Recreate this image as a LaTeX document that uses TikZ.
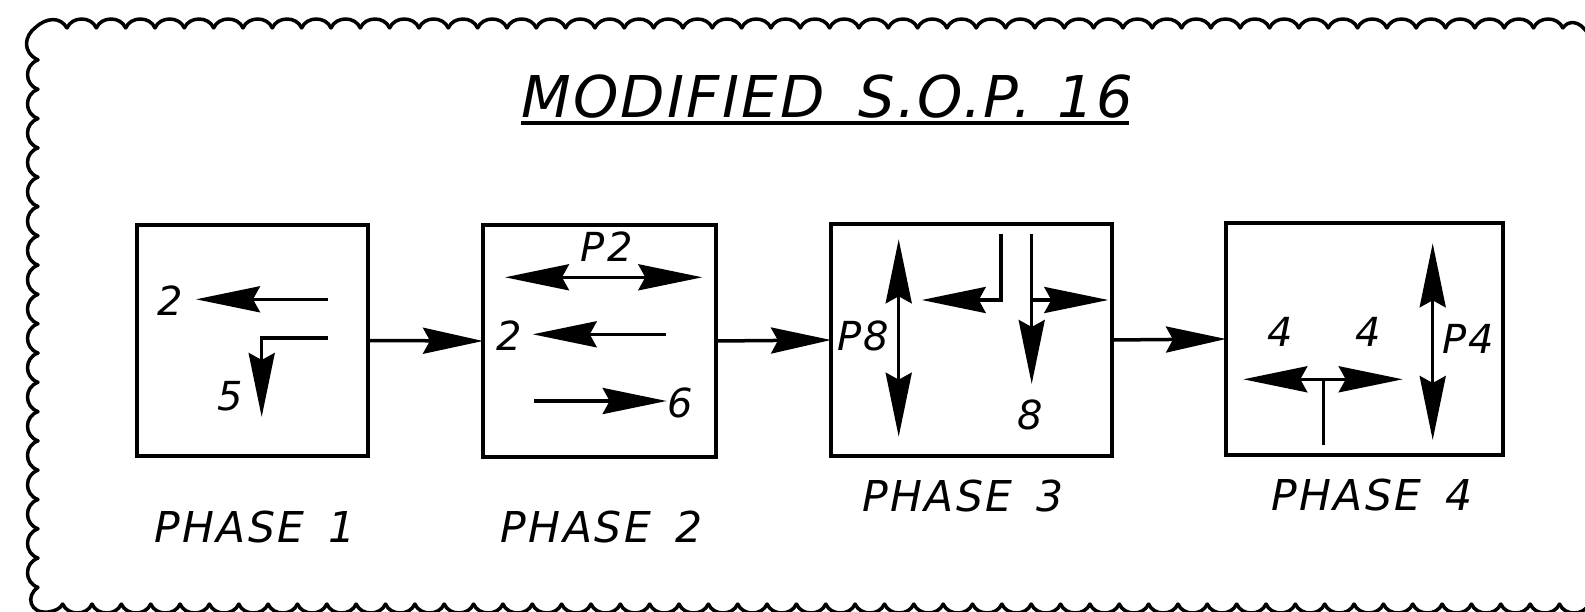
\documentclass[tikz,border=0pt]{standalone}
\usepackage{fontspec}
\setmainfont{DejaVu Sans}
\newfontfamily\lblfont[LetterSpace=6]{DejaVu Sans Oblique}
\newfontfamily\ttlfont[LetterSpace=4]{DejaVu Sans Oblique}
\usetikzlibrary{arrows.meta}
\tikzset{
  pbox/.style={draw, line width=4.5pt, inner sep=0pt, outer sep=0pt},
  txt/.style={font=\lblfont\fontsize{40}{40}\selectfont, inner sep=0pt},
  phase/.style={font=\lblfont\fontsize{42.5}{42.5}\selectfont, inner sep=0pt},
  ttl/.style={font=\ttlfont\fontsize{57.6}{57.6}\selectfont, inner sep=0pt},
  ln/.style={line width=3.5pt},
  arr/.style={line width=3.5pt, -{Stealth[length=64pt,width=26pt,inset=7pt]}},
  darr/.style={line width=3.5pt, {Stealth[length=64pt,width=26pt,inset=7pt]}-{Stealth[length=64pt,width=26pt,inset=7pt]}},
  conn/.style={line width=3.5pt, -{Stealth[length=60pt,width=26pt,inset=7pt]}},
  border/.style={line width=3.5pt, line cap=round, line join=round}
}
\begin{document}
\begin{tikzpicture}[x=1pt,y=-1pt]
\useasboundingbox (0,0) rectangle (1585,612);
% ---------- scalloped frame ----------
\draw[border] (38,60) .. controls (22,52) and (24,36) .. (36,27) .. controls (46,18) and (60,16) .. (67,28);
\foreach \i in {0,...,50} {
  \pgfmathsetmacro\xa{67+29.33*\i}
  \draw[border] (\xa,28) .. controls (\xa+5,16) and (\xa+24.33,16) .. (\xa+29.33,28);
}
\draw[border] (1562.8,28) .. controls (1568,20) and (1580,20) .. (1588,34);
\foreach \i in {0,...,17} {
  \pgfmathsetmacro\ya{60+29.3*\i}
  \draw[border] (38,\ya) .. controls (24,\ya+5) and (24,\ya+24.3) .. (38,\ya+29.3);
}
\draw[border] (38,587.4) .. controls (25,596) and (30,614) .. (48,612) .. controls (55,611) and (60,609) .. (62.65,604);
\foreach \i in {0,...,52} {
  \pgfmathsetmacro\xb{62.65+29.35*\i}
  \draw[border] (\xb,604) .. controls (\xb+5,616) and (\xb+24.35,616) .. (\xb+29.35,604);
}
% ---------- title ----------
\node[ttl] (title) at (827,97) {MODIFIED\hspace{34pt}S.O.P.\hspace{26pt}16};
\coordinate (ulA) at (521,123);
\coordinate (ulB) at (1129,123);
\draw[ln] (ulA) -- (ulB);
% ---------- boxes ----------
\node[pbox, minimum width=231pt, minimum height=231pt] (b1) at (252.5,340.5) {};
\node[pbox, minimum width=233pt, minimum height=232pt] (b2) at (599.5,341) {};
\node[pbox, minimum width=281pt, minimum height=232pt] (b3) at (971.5,340) {};
\node[pbox, minimum width=277pt, minimum height=232pt] (b4) at (1364.5,339) {};
\draw[conn] (b1.east) -- (b2.west);
\draw[conn] (b2.east) -- (b3.west);
\draw[conn] (b3.east) -- (b4.west);
% ---------- phase labels ----------
\node[phase] (ph1) at (255,527.5) {PHASE\hspace{24pt}1};
\node[phase] (ph2) at (601.5,527.5) {PHASE\hspace{24pt}2};
\node[phase] (ph3) at (963,496) {PHASE\hspace{24pt}3};
\node[phase] (ph4) at (1372,495) {PHASE\hspace{24pt}4};
% ---------- phase 1 ----------
\coordinate (p1as) at (328,299.3);
\coordinate (p1at) at (196,299.3);
\draw[arr] (p1as) -- (p1at);
\node[txt] (l12) at (170,300.7) {2};
\coordinate (p1bs) at (328,338);
\coordinate (p1bt) at (261.7,417);
\draw[arr] (p1bs) -| (p1bt);
\node[txt] (l15) at (230,396.7) {5};
% ---------- phase 2 ----------
\coordinate (p2al) at (505,277.3);
\coordinate (p2ar) at (702.3,277.3);
\draw[darr] (p2al) -- (p2ar);
\node[txt] (l2p) at (606.7,246.7) {P2};
\coordinate (p2bs) at (666,334.3);
\coordinate (p2bt) at (532.7,334.3);
\draw[arr] (p2bs) -- (p2bt);
\node[txt] (l22) at (509.3,336) {2};
\coordinate (p2cs) at (534,401);
\coordinate (p2ct) at (666.7,401);
\draw[arr] (p2cs) -- (p2ct);
\node[txt] (l26) at (680,402.7) {6};
% ---------- phase 3 ----------
\coordinate (p3at) at (898.7,239.3);
\coordinate (p3ab) at (898.7,436.7);
\draw[darr] (p3at) -- (p3ab);
\node[txt] (l3p) at (863.3,336) {P8};
\coordinate (p3bs) at (1001,234);
\coordinate (p3bt) at (921.7,300);
\draw[arr] (p3bs) |- (p3bt);
\coordinate (p3cs) at (1031.7,234);
\coordinate (p3ct) at (1031.7,384);
\draw[arr] (p3cs) -- (p3ct);
\coordinate (p3ds) at (1031.7,300);
\coordinate (p3dt) at (1108.3,300);
\draw[arr] (p3ds) -- (p3dt);
\node[txt] (l38) at (1030.7,415) {8};
% ---------- phase 4 ----------
\coordinate (p4tb) at (1323.3,445);
\coordinate (p4tt) at (1323.3,379.3);
\draw[ln] (p4tb) -- (p4tt);
\coordinate (p4hl) at (1243.3,379.3);
\coordinate (p4hr) at (1402.7,379.3);
\draw[darr] (p4hl) -- (p4hr);
\node[txt] (l44a) at (1280,331.7) {4};
\node[txt] (l44b) at (1368.3,331.7) {4};
\coordinate (p4vt) at (1432.7,243.3);
\coordinate (p4vb) at (1432.7,440);
\draw[darr] (p4vt) -- (p4vb);
\node[txt] (l4p) at (1468.3,339.3) {P4};
\end{tikzpicture}
\end{document}
